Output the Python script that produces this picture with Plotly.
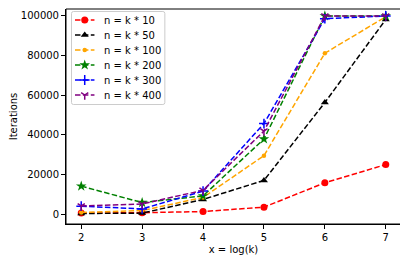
import plotly.graph_objects as go

# ---- data ----
x_vals = [2, 3, 4, 5, 6, 7]
labels = ["n = k * 10", "n = k * 50", "n = k * 100", "n = k * 200", "n = k * 300", "n = k * 400"]
s10 = [500, 700, 1300, 3500, 15800, 25000]
s50 = [300, 500, 7400, 17000, 56300, 98200]
s100 = [800, 1800, 8400, 29500, 81200, 99600]
s200 = [14100, 5800, 9200, 37900, 100000, 100000]
s300 = [4000, 2600, 11600, 45700, 98600, 100000]
s400 = [4100, 5100, 12000, 41900, 100000, 100000]
y_ticks = [0, 20000, 40000, 60000, 80000, 100000]

# ---- styles ----
series = [s10, s50, s100, s200, s300, s400]
colors = ["red", "black", "orange", "#008000", "blue", "#800080"]
symbols = ["circle", "triangle-up", "circle", "star", "cross-thin", "y-down"]
sizes = [7, 7, 4.5, 8, 7, 6]
DASH = "5.5px,2.4px"
FONT = dict(family="DejaVu Sans", size=10, color="black")

# page-pixel layout (browser body has an 8px margin)
BODY = 8
PLOT_L, PLOT_R, PLOT_T, PLOT_B = 66, 401.5, 9, 224
W, H = 408, 262

# legend geometry in page pixels
LEG_X0, LEG_Y0, LEG_X1, LEG_Y1 = 71.5, 11.5, 165, 104.5
ROW0, ROW_H = 20, 15
SAMP_X0, SAMP_X1, TEXT_X = 75, 94.5, 102


def marker_style(c, sym, sz):
    m = dict(color=c, symbol=sym, size=sz)
    if sym in ("cross-thin", "y-down"):
        m["line"] = dict(color=c, width=1.5)
    return m


fig = go.Figure()
for lab, ys, c, sym, sz in zip(labels, series, colors, symbols, sizes):
    fig.add_trace(go.Scatter(
        x=x_vals, y=ys, name=lab, mode="lines+markers",
        line=dict(color=c, width=1.5, dash=DASH),
        marker=marker_style(c, sym, sz), showlegend=False,
    ))

# custom legend on an overlay axis in page-pixel units
annotations = []
for i, (lab, c, sym, sz) in enumerate(zip(labels, colors, symbols, sizes)):
    yc = ROW0 + i * ROW_H
    fig.add_trace(go.Scatter(
        x=[SAMP_X0, SAMP_X1], y=[yc, yc], mode="lines", xaxis="x2", yaxis="y2",
        line=dict(color=c, width=1.5, dash=DASH), showlegend=False, hoverinfo="skip",
    ))
    fig.add_trace(go.Scatter(
        x=[(SAMP_X0 + SAMP_X1) / 2], y=[yc], mode="markers", xaxis="x2", yaxis="y2",
        marker=marker_style(c, sym, sz), showlegend=False, hoverinfo="skip",
    ))
    annotations.append(dict(
        x=TEXT_X, y=yc, xref="x2", yref="y2", text=lab, showarrow=False,
        xanchor="left", yanchor="middle", font=FONT,
    ))

r = 2
path = (f"M{LEG_X0 + r},{LEG_Y0} L{LEG_X1 - r},{LEG_Y0} Q{LEG_X1},{LEG_Y0} {LEG_X1},{LEG_Y0 + r} "
        f"L{LEG_X1},{LEG_Y1 - r} Q{LEG_X1},{LEG_Y1} {LEG_X1 - r},{LEG_Y1} "
        f"L{LEG_X0 + r},{LEG_Y1} Q{LEG_X0},{LEG_Y1} {LEG_X0},{LEG_Y1 - r} "
        f"L{LEG_X0},{LEG_Y0 + r} Q{LEG_X0},{LEG_Y0} {LEG_X0 + r},{LEG_Y0} Z")

axis_common = dict(
    showline=True, linecolor="black", linewidth=1,
    ticks="outside", ticklen=4, tickcolor="black", tickwidth=1,
    showgrid=False, zeroline=False, tickfont=FONT,
)

# y range chosen so 0..100000 keeps the reference scale with the top edge at PLOT_T
Y_LO = -5000
Y_HI = 103500

fig.update_layout(
    width=W - BODY, height=H - BODY,
    margin=dict(l=PLOT_L - BODY, r=W - PLOT_R, t=PLOT_T - BODY, b=H - PLOT_B, autoexpand=False),
    paper_bgcolor="white", plot_bgcolor="white",
    font=FONT, showlegend=False,
    xaxis=dict(range=[1.75, 7.25], tickvals=x_vals,
               title=dict(text="x = log(k)", standoff=3, font=FONT), **axis_common),
    yaxis=dict(range=[Y_LO, Y_HI], tickvals=y_ticks, tickformat="d",
               title=dict(text="Iterations", standoff=6, font=FONT), **axis_common),
    xaxis2=dict(overlaying="x", range=[PLOT_L, PLOT_R], visible=False, fixedrange=True),
    yaxis2=dict(overlaying="y", range=[PLOT_B, PLOT_T], visible=False, fixedrange=True),
    shapes=[
        dict(type="path", path=path, xref="x2", yref="y2",
             fillcolor="rgba(255,255,255,0.8)", line=dict(color="#cccccc", width=1),
             layer="below"),
        dict(type="rect", xref="paper", yref="paper", x0=0, x1=1, y0=0, y1=1,
             line=dict(color="black", width=1), fillcolor="rgba(0,0,0,0)", layer="above"),
    ],
    annotations=annotations,
)

fig.write_html("out.html")
